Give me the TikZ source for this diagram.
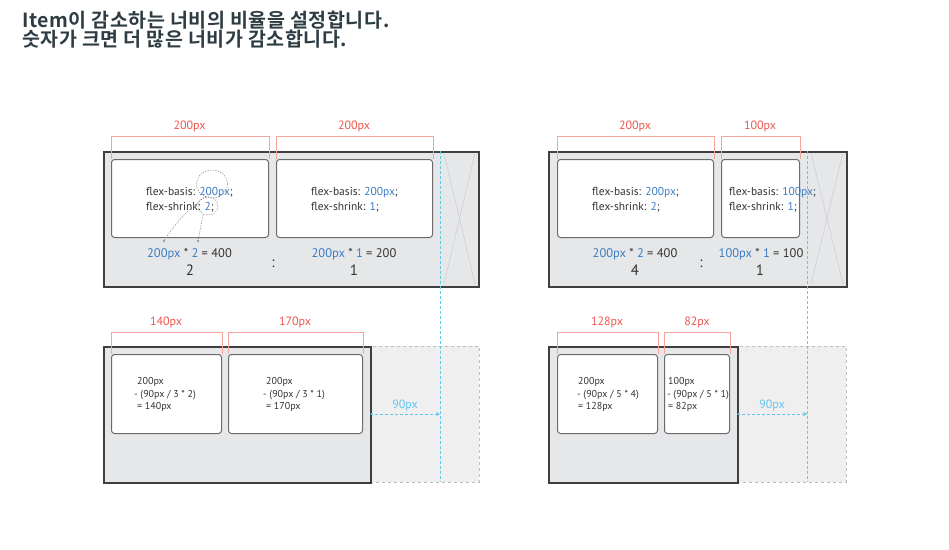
\documentclass[tikz,border=0pt]{standalone}
\usepackage{fontspec}
\setmainfont{PT Sans}
\newfontfamily\kr{Noto Sans CJK KR}[BoldFont={Noto Sans CJK KR Bold}]
\usetikzlibrary{arrows.meta}
\definecolor{titlecol}{HTML}{2E3D43}
\definecolor{contfill}{HTML}{E6E7E9}
\definecolor{contborder}{HTML}{3F3F40}
\definecolor{itemborder}{HTML}{6B6B6D}
\definecolor{bracketred}{HTML}{F6A49C}
\definecolor{labelred}{HTML}{F0554C}
\definecolor{codegray}{HTML}{333333}
\definecolor{valblue}{HTML}{3B7DC4}
\definecolor{guideblue}{HTML}{62C6F0}
\definecolor{ghostfill}{HTML}{EFEFF0}
\definecolor{ghostline}{HTML}{BDBDBF}
\definecolor{xgray}{HTML}{CFCFD2}
\definecolor{dotgray}{HTML}{8A8A8C}
\tikzset{
  container/.style={draw=contborder, line width=1.6pt, fill=contfill, anchor=north west, inner sep=0pt},
  ghost/.style={draw=ghostline, dashed, line width=0.8pt, fill=ghostfill, anchor=north west, inner sep=0pt},
  itembox/.style={draw=itemborder, line width=1pt, fill=white, rounded corners=3pt, anchor=north west, inner sep=0pt},
  bracket/.style={draw=bracketred, line width=0.8pt},
  redlabel/.style={text=labelred, font=\fontsize{12}{14}\selectfont, anchor=base, inner sep=0pt},
  codetxt/.style={text=codegray, font=\fontsize{11.5}{13}\selectfont, anchor=base west, inner sep=0pt},
  calctxt/.style={text=codegray, font=\fontsize{12.5}{14}\selectfont, anchor=base, inner sep=0pt},
  ratiotxt/.style={text=codegray, font=\fontsize{15}{16}\selectfont, anchor=base, inner sep=0pt},
  smalltxt/.style={text=codegray, font=\fontsize{10}{12.5}\selectfont, anchor=base west, inner sep=0pt},
  titletxt/.style={text=titlecol, font=\kr\bfseries\fontsize{19.5}{21}\selectfont\addfontfeature{LetterSpace=3}, anchor=base west, inner sep=0pt},
  guide/.style={draw=guideblue, line width=1pt, dash pattern=on 3pt off 2pt},
  guidelabel/.style={text=guideblue, font=\fontsize{12}{13}\selectfont, anchor=base, inner sep=0pt},
  xline/.style={draw=xgray, line width=0.6pt},
  dotline/.style={draw=dotgray, line width=0.6pt, dash pattern=on 1.2pt off 1.4pt},
}
\newcommand{\bv}[1]{\textcolor{valblue}{#1}}
\begin{document}
\begin{tikzpicture}[x=1pt,y=-1pt]
\useasboundingbox[fill=white] (0,0) rectangle (949,549);

% title
\node[titletxt] (title1) at (22,27) {Item이 감소하는 너비의 비율을 설정합니다.};
\node[titletxt] (title2) at (22,46) {숫자가 크면 더 많은 너비가 감소합니다.};

% ===== top-left panel =====
\node[container, minimum width=375, minimum height=135] (c1) at (103,151) {};
\draw[xline] (444,153) -- (475,284);
\draw[xline] (475,153) -- (444,284);
\node[itembox, minimum width=157, minimum height=78] (i1) at (111,159) {};
\node[itembox, minimum width=156, minimum height=78] (i2) at (276,159) {};
\draw[bracket] (i1.north west) -- ++(0,-23) -| (i1.north east);
\draw[bracket] (i2.north west) -- ++(0,-23) -| (i2.north east);
\node[redlabel] (l1) at (189.5,129) {200px};
\node[redlabel] (l2) at (354,129) {200px};
\node[codetxt] (t1a) at (146,195) {flex-basis: \bv{200px};};
\node[codetxt] (t1b) at (146,210) {flex-shrink: \bv{2};};
\node[codetxt] (t2a) at (311,195) {flex-basis: \bv{200px};};
\node[codetxt] (t2b) at (311,210) {flex-shrink: \bv{1};};
\node[calctxt] (m1) at (189.5,257) {\bv{200px} * \bv{2} = 400};
\node[calctxt] (m2) at (354,257) {\bv{200px} * \bv{1} = 200};
\node[ratiotxt] (r1) at (190,275) {2};
\node[ratiotxt] (r2) at (354,275) {1};
\node[ratiotxt] (colon1) at (273,267) {:};
% dotted highlight
\draw[dotline] (212,184) ellipse [x radius=15.5, y radius=14];
\draw[dotline] (208,206) ellipse [x radius=10, y radius=9];
\coordinate (d1s) at (206,196);
\coordinate (d1e) at (164,241);
\coordinate (d2s) at (203,215);
\coordinate (d2e) at (198,241);
\draw[dotline] (d1s) to[bend right=10] (d1e);
\draw[dotline] (d2s) -- (d2e);
\fill[dotgray] (d1e) circle (1.2);
\fill[dotgray] (d2e) circle (1.2);

% ===== top-right panel =====
\node[container, minimum width=298, minimum height=135] (c2) at (548,151) {};
\draw[xline] (811,153) -- (843,284);
\draw[xline] (843,153) -- (811,284);
\node[itembox, minimum width=156, minimum height=78] (i3) at (557,159) {};
\node[itembox, minimum width=78, minimum height=78] (i4) at (721,159) {};
\draw[bracket] (i3.north west) -- ++(0,-23) -| (i3.north east);
\draw[bracket] (i4.north west) -- ++(0,-23) -| (i4.north east);
\node[redlabel] (l3) at (635,129) {200px};
\node[redlabel] (l4) at (760,129) {100px};
\node[codetxt] (t3a) at (592,195) {flex-basis: \bv{200px};};
\node[codetxt] (t3b) at (592,210) {flex-shrink: \bv{2};};
\node[codetxt] (t4a) at (729,195) {flex-basis: \bv{100px};};
\node[codetxt] (t4b) at (729,210) {flex-shrink: \bv{1};};
\node[calctxt] (m3) at (635,257) {\bv{200px} * \bv{2} = 400};
\node[calctxt] (m4) at (761,257) {\bv{100px} * \bv{1} = 100};
\node[ratiotxt] (r3) at (635,275) {4};
\node[ratiotxt] (r4) at (760,275) {1};
\node[ratiotxt] (colon2) at (701,267) {:};

% ===== bottom-left panel =====
\node[ghost, minimum width=109, minimum height=136] (g3) at (370,346) {};
\node[container, minimum width=267, minimum height=136] (c3) at (103,346) {};
\node[itembox, minimum width=110, minimum height=79] (j1) at (111,354) {};
\node[itembox, minimum width=134, minimum height=79] (j2) at (228,354) {};
\draw[bracket] (j1.north west) -- ++(0,-22) -| (j1.north east);
\draw[bracket] (j2.north west) -- ++(0,-22) -| (j2.north east);
\node[redlabel] (l5) at (166,325) {140px};
\node[redlabel] (l6) at (295,325) {170px};
\node[smalltxt] (s1a) at (137,384) {200px};
\node[smalltxt] (s1b) at (134,397) {- (90px / 3 * 2)};
\node[smalltxt] (s1c) at (137,409) {= 140px};
\node[smalltxt] (s2a) at (266,384) {200px};
\node[smalltxt] (s2b) at (263,397) {- (90px / 3 * 1)};
\node[smalltxt] (s2c) at (266,409) {= 170px};

% ===== bottom-right panel =====
\node[ghost, minimum width=109, minimum height=136] (g4) at (737,346) {};
\node[container, minimum width=189, minimum height=136] (c4) at (548,346) {};
\node[itembox, minimum width=100, minimum height=79] (j3) at (557,354) {};
\node[itembox, minimum width=65, minimum height=79] (j4) at (664,354) {};
\draw[bracket] (j3.north west) -- ++(0,-22) -| (j3.north east);
\draw[bracket] (j4.north west) -- ++(0,-22) -| (j4.north east);
\node[redlabel] (l7) at (607,325) {128px};
\node[redlabel] (l8) at (697,325) {82px};
\node[smalltxt] (s3a) at (578,384) {200px};
\node[smalltxt] (s3b) at (577,397) {- (90px / 5 * 4)};
\node[smalltxt] (s3c) at (578,409) {= 128px};
\node[smalltxt] (s4a) at (668,384) {100px};
\node[smalltxt] (s4b) at (667,397) {- (90px / 5 * 1)};
\node[smalltxt] (s4c) at (668,409) {= 82px};

% ===== guides =====
\coordinate (v1t) at (440,151);
\coordinate (v1b) at (440,482);
\coordinate (v2t) at (807,151);
\coordinate (v2b) at (807,482);
\draw[guide] (v1t) -- (v1b);
\draw[guide] (v2t) -- (v2b);
\coordinate (a1l) at (370,414);
\coordinate (a1r) at (440,414);
\coordinate (a2l) at (737,414);
\coordinate (a2r) at (807,414);
\draw[guide, {Stealth[length=4pt,width=4pt]}-{Stealth[length=3pt,width=3pt]}] (a1r) -- (a1l);
\draw[guide, {Stealth[length=4pt,width=4pt]}-{Stealth[length=3pt,width=3pt]}] (a2r) -- (a2l);
\node[guidelabel] (n1) at (405,408) {90px};
\node[guidelabel] (n2) at (772,408) {90px};
\end{tikzpicture}
\end{document}
